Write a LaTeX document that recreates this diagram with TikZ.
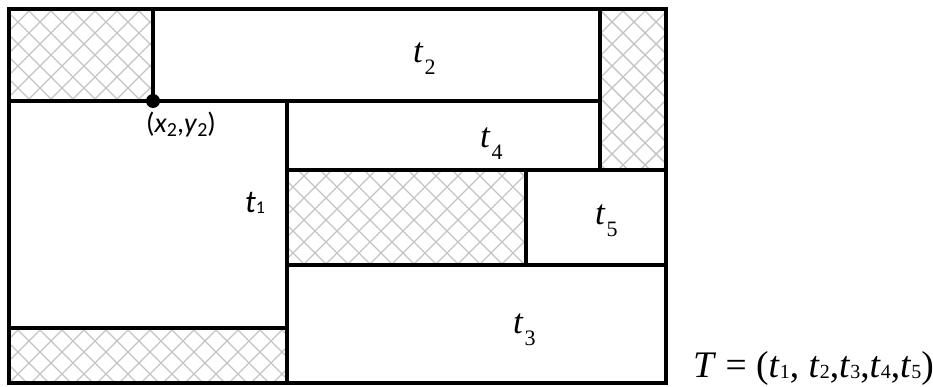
\documentclass[tikz,border=0pt]{standalone}
\usepackage{fontspec}
\setmainfont{Liberation Serif}
\newfontfamily\calibrifont{Carlito}
\usetikzlibrary{positioning}
\definecolor{Hatch}{HTML}{C4C4C4}
\definecolor{Ink}{HTML}{000000}
\newcommand\hatchrect[4]{\begin{scope}\clip (#1,#2) rectangle (#3,#4); \foreach \k in {-400,-378,...,1100} {\draw[hatchline] (\k,0) -- ++(400,400); \draw[hatchline] (\k,0) -- ++(-400,400);}\end{scope}}
\newcommand\tlab[1]{\textit{t}\kern1pt\raisebox{-12pt}{\fontsize{22}{22}\selectfont #1}}
\newcommand\tsm[1]{\textit{t}\raisebox{-1pt}{\fontsize{20}{20}\selectfont #1}}

\begin{document}
\begin{tikzpicture}[x=1pt,y=-1pt, wall/.style={draw=Ink,line width=3.2pt}, hatchline/.style={draw=Hatch,line width=1.4pt}, lab/.style={inner sep=0pt,anchor=base west,font=\fontsize{35}{35}\selectfont}, dot/.style={circle,fill=Ink,inner sep=0pt,minimum size=14pt}]
\useasboundingbox (0,0) rectangle (933,387);
% hatched (empty) areas
\hatchrect{9}{9}{153}{101}\hatchrect{600}{9}{666}{170}\hatchrect{9}{328}{287}{383}\hatchrect{287}{170}{526}{265}
% boxes
\draw[wall] (9,9) rectangle (153,101);\draw[wall] (153,9) rectangle (600,101);\draw[wall] (600,9) rectangle (666,170);
\draw[wall] (9,101) rectangle (287,328);\draw[wall] (9,328) rectangle (287,383);\draw[wall] (287,101) rectangle (600,170);
\draw[wall] (287,170) rectangle (526,265);\draw[wall] (526,170) rectangle (666,265);\draw[wall] (287,265) rectangle (666,383);
% labels
\node[lab] (t2) at (413,63) {\tlab{2}};\node[lab] (t4) at (480,148) {\tlab{4}};\node[lab] (t5) at (595,225) {\tlab{5}};\node[lab] (t3) at (513,333) {\tlab{3}};
\node[lab,font=\fontsize{32}{32}\calibrifont] (t1) at (245,213) {\textit{t}\raisebox{-1pt}{\fontsize{18}{18}\selectfont 1}};
\node[dot] (corner) at (153,101) {};
\node[lab,font=\fontsize{28}{28}\calibrifont] (xy) at (146,133) {(\textit{x}\raisebox{-4pt}{\fontsize{20}{20}\selectfont 2},\textit{y}\raisebox{-4pt}{\fontsize{20}{20}\selectfont 2})};
\node[lab,font=\fontsize{37.5}{37.5}\selectfont] (tuple) at (693,377) {\textit{T} = (\tsm{1}, \tsm{2},\tsm{3},\tsm{4},\tsm{5})};
\end{tikzpicture}
\end{document}
